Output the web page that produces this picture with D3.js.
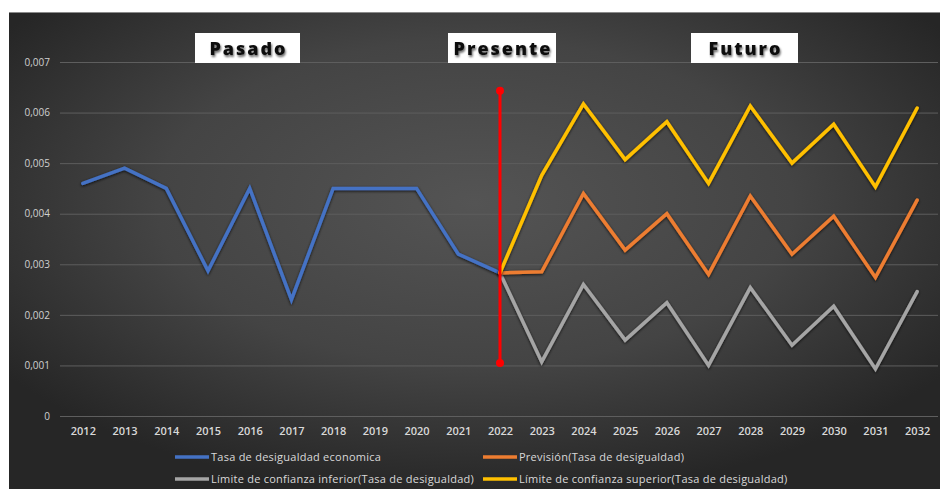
<!DOCTYPE html>
<html>
<head>
<meta charset="utf-8">
<script src="https://cdn.jsdelivr.net/npm/d3@7"></script>
<style>
  html, body { margin: 0; padding: 0; background: #ffffff; }
  svg { display: block; }
</style>
</head>
<body>
<svg id="chart" width="940" height="489"></svg>
<script>
// Años del eje X
const years = [2012, 2013, 2014, 2015, 2016, 2017, 2018, 2019, 2020, 2021, 2022,
               2023, 2024, 2025, 2026, 2027, 2028, 2029, 2030, 2031, 2032];

// Serie histórica 2012–2022
const historico = [0.0046, 0.0049, 0.0045, 0.00287, 0.0045, 0.0023, 0.0045, 0.0045, 0.0045, 0.0032, 0.00283];

// Previsión y límites de confianza 2022–2032
const prevision = [0.00283, 0.00285, 0.0044, 0.00328, 0.0040, 0.0028, 0.00435, 0.0032, 0.00395, 0.00274, 0.00427];
const limiteInferior = [0.00283, 0.00107, 0.0026, 0.0015, 0.00224, 0.0010, 0.00254, 0.0014, 0.00217, 0.00093, 0.00246];
const limiteSuperior = [0.00283, 0.00476, 0.00617, 0.00507, 0.00582, 0.0046, 0.00613, 0.0050, 0.00577, 0.00453, 0.00609];

// Marca vertical del presente
const presenteYear = 2022;
const presenteRango = [0.00105, 0.00643];

// Ticks del eje Y
const yTicks = [0, 0.001, 0.002, 0.003, 0.004, 0.005, 0.006, 0.007];

const seriesNames = [
  "Tasa de desigualdad economica",
  "Previsión(Tasa de desigualdad)",
  "Límite de confianza inferior(Tasa de desigualdad)",
  "Límite de confianza superior(Tasa de desigualdad)"
];
const seriesColors = ["#4472C4", "#ED7D31", "#A5A5A5", "#FFC000"];

const periodLabels = ["Pasado", "Presente", "Futuro"];

const svg = d3.select("#chart");
const W = 940, H = 489;

// Fondo con degradado radial oscuro
const defs = svg.append("defs");
const grad = defs.append("radialGradient")
  .attr("id", "bg").attr("cx", "50%").attr("cy", "40%").attr("r", "62%");
grad.append("stop").attr("offset", "0%").attr("stop-color", "#545454");
grad.append("stop").attr("offset", "55%").attr("stop-color", "#444444");
grad.append("stop").attr("offset", "100%").attr("stop-color", "#262626");

const shadow = defs.append("filter").attr("id", "glow")
  .attr("x", "-10%").attr("y", "-10%").attr("width", "120%").attr("height", "120%");
shadow.append("feGaussianBlur").attr("in", "SourceAlpha").attr("stdDeviation", 1.6).attr("result", "b");
shadow.append("feOffset").attr("in", "b").attr("dx", 0).attr("dy", 1).attr("result", "o");
shadow.append("feComponentTransfer").attr("in", "o").attr("result", "s")
  .append("feFuncA").attr("type", "linear").attr("slope", 0.8);
const merge = shadow.append("feMerge");
merge.append("feMergeNode").attr("in", "s");
merge.append("feMergeNode").attr("in", "SourceGraphic");

const textShadow = defs.append("filter").attr("id", "tshadow")
  .attr("x", "-20%").attr("y", "-30%").attr("width", "140%").attr("height", "160%");
textShadow.append("feGaussianBlur").attr("in", "SourceAlpha").attr("stdDeviation", 1).attr("result", "b");
textShadow.append("feOffset").attr("in", "b").attr("dx", 1).attr("dy", 1.5).attr("result", "o");
textShadow.append("feComponentTransfer").attr("in", "o").attr("result", "s")
  .append("feFuncA").attr("type", "linear").attr("slope", 0.6);
const m2 = textShadow.append("feMerge");
m2.append("feMergeNode").attr("in", "s");
m2.append("feMergeNode").attr("in", "SourceGraphic");

svg.append("rect").attr("x", 9).attr("y", 12).attr("width", W - 9).attr("height", H - 12)
  .attr("fill", "url(#bg)");
svg.append("line").attr("x1", 9).attr("x2", W).attr("y1", 12.5).attr("y2", 12.5)
  .attr("stroke", "#8a8a8a").attr("stroke-width", 1);

// Escalas
const x = d3.scalePoint().domain(years).range([62, 938]).padding(0.5);
const y = d3.scaleLinear().domain([0, 0.007]).range([416, 62]);

// Líneas de cuadrícula y eje Y
const fmt = v => v === 0 ? "0" : d3.format(".3f")(v).replace(".", ",");
const yAxis = d3.axisLeft(y).tickValues(yTicks).tickFormat(fmt)
  .tickSize(-(938 - 60)).tickPadding(10);
const gy = svg.append("g").attr("transform", "translate(60,0)").call(yAxis);
gy.select(".domain").remove();
gy.selectAll(".tick line").attr("stroke", "#5e5e5e").attr("stroke-width", 1);
gy.selectAll(".tick text").attr("fill", "#d0d0d0")
  .style("font-family", "'Open Sans', sans-serif").style("font-size", "10px");

// Eje X
const xAxis = d3.axisBottom(x).tickSize(0).tickPadding(11);
const gx = svg.append("g").attr("transform", "translate(0,416)").call(xAxis);
gx.select(".domain").remove();
gx.selectAll(".tick text").attr("fill", "#d9d9d9")
  .style("font-family", "'Open Sans', sans-serif").style("font-size", "11px")
  .style("font-weight", "600");

// Series
const line = d3.line().x(d => x(d.year)).y(d => y(d.value)).curve(d3.curveLinear);
const histYears = years.slice(0, historico.length);
const futYears = years.slice(historico.length - 1);
const seriesData = [
  histYears.map((yr, i) => ({ year: yr, value: historico[i] })),
  futYears.map((yr, i) => ({ year: yr, value: prevision[i] })),
  futYears.map((yr, i) => ({ year: yr, value: limiteInferior[i] })),
  futYears.map((yr, i) => ({ year: yr, value: limiteSuperior[i] }))
];

const drawOrder = [0, 2, 1, 3];
drawOrder.forEach(k => {
  svg.append("path").datum(seriesData[k])
    .attr("d", line)
    .attr("fill", "none")
    .attr("stroke", seriesColors[k])
    .attr("stroke-width", 3.5)
    .attr("stroke-linejoin", "miter")
    .attr("stroke-linecap", "round")
    .attr("filter", "url(#glow)");
});

// Línea roja del presente
const px = x(presenteYear);
svg.append("line")
  .attr("x1", px).attr("x2", px)
  .attr("y1", y(presenteRango[1])).attr("y2", y(presenteRango[0]))
  .attr("stroke", "#ff0000").attr("stroke-width", 3);
svg.selectAll("circle.end").data(presenteRango).enter().append("circle")
  .attr("class", "end")
  .attr("cx", px).attr("cy", d => y(d)).attr("r", 4)
  .attr("fill", "#ff0000");

// Etiquetas de periodo
const periodBoxes = [
  { label: periodLabels[0], x0: 195, x1: 300 },
  { label: periodLabels[1], x0: 448, x1: 556 },
  { label: periodLabels[2], x0: 691, x1: 798 }
];
periodBoxes.forEach(b => {
  svg.append("rect").attr("x", b.x0).attr("y", 33).attr("width", b.x1 - b.x0).attr("height", 30)
    .attr("fill", "#ffffff");
  svg.append("text").attr("x", (b.x0 + b.x1) / 2 + 1).attr("y", 54.5)
    .attr("text-anchor", "middle")
    .attr("fill", "#111111")
    .attr("filter", "url(#tshadow)")
    .style("font-family", "'Open Sans', sans-serif")
    .style("font-weight", "800").style("font-size", "18px")
    .style("letter-spacing", "2px")
    .text(b.label);
});

// Leyenda
const legendItems = [
  { k: 0, x: 175, y: 457 },
  { k: 1, x: 483, y: 457 },
  { k: 2, x: 175, y: 479 },
  { k: 3, x: 483, y: 479 }
];
legendItems.forEach(it => {
  svg.append("line")
    .attr("x1", it.x).attr("x2", it.x + 34)
    .attr("y1", it.y).attr("y2", it.y)
    .attr("stroke", seriesColors[it.k]).attr("stroke-width", 3.5);
  svg.append("text")
    .attr("x", it.x + 36).attr("y", it.y + 4)
    .attr("fill", "#d9d9d9")
    .style("font-family", "'Open Sans', sans-serif").style("font-size", "11px")
    .style("letter-spacing", "0.25px")
    .text(seriesNames[it.k]);
});
</script>
</body>
</html>
